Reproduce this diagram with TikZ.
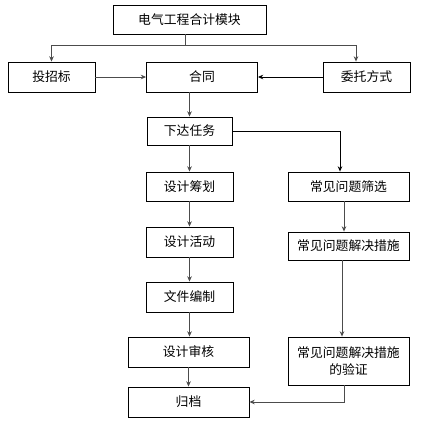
\documentclass[tikz,border=0pt]{standalone}
\usepackage{fontspec}
\newfontfamily\cjk{Noto Sans CJK SC}
\usetikzlibrary{arrows.meta,positioning}

\tikzset{
  box/.style={draw,rectangle,inner sep=0pt,line width=0.5pt,
    minimum width=1.74cm,minimum height=0.6cm,
    font=\cjk\fontsize{7.3}{9.5}\selectfont},
  wide/.style={box,minimum width=2.42cm},
  arr/.style={->,>={Stealth[length=3pt,width=2.6pt]},draw=black!70,line width=0.5pt}
}

\begin{document}
\begin{tikzpicture}[x=0.02cm,y=-0.02cm]
	\fill[white] (0,0) rectangle (426,420);
	\useasboundingbox (0,0) rectangle (426,420);

	\node[box,minimum width=3.06cm,minimum height=0.58cm] (mokuai) at (189.5,19.5) {电气工程合计模块};
	\node[box] (toubiao) at (51.5,77) {投招标};
	\node[box,minimum width=2.22cm] (hetong) at (202,77) {合同\hspace{0.5cm}};
	\node[box] (weituo) at (366.5,77) {委托方式};

	\node[box,minimum width=1.7cm,minimum height=0.56cm] (xiada) at (189.5,131) {下达任务};
	\node[box,minimum height=0.58cm] (chouhua) at (189.5,186.5) {设计筹划};
	\node[box] (huodong) at (189.5,242) {设计活动};
	\node[box] (bianzhi) at (189.5,297) {文件编制};
	\node[wide] (shenhe) at (188.5,352) {设计审核};
	\node[wide] (guidang) at (188.5,402) {归档};

	\node[wide,minimum height=0.58cm] (shaixuan) at (348.5,186.5) {常见问题筛选};
	\node[wide,minimum height=0.56cm] (cuoshi) at (348.5,246) {常见问题解决措施};
	\node[wide,minimum height=0.96cm,align=center] (yanzheng) at (348.5,361) {常见问题解决措施\\的验证};

	% top split
	\coordinate (split) at (185,45);
	\draw[draw=black!70,line width=0.5pt] (split |- mokuai.south) -- (split);
	\draw[arr] (split) -| (toubiao.north);
	\draw[arr] (split) -| ([xshift=-0.21cm]weituo.north);

	\draw[arr] (toubiao.east) -- (hetong.west);
	\draw[arr,draw=black] (weituo.west) -- (hetong.east);
	\draw[arr] (xiada.north |- hetong.south) -- (xiada.north);

	% left column
	\draw[arr] (xiada) -- (chouhua);
	\draw[arr] (chouhua) -- (huodong);
	\draw[arr] (huodong) -- (bianzhi);
	\draw[arr] (bianzhi.south) -- (bianzhi.south |- shenhe.north);
	\draw[arr] (shenhe) -- (guidang);

	% right column
	\draw[arr,draw=black] (xiada.east) -| ([xshift=-0.17cm]shaixuan.north);
	\draw[arr] ([xshift=-0.09cm]shaixuan.south) -- ([xshift=-0.09cm]cuoshi.north);
	\draw[arr] ([xshift=-0.13cm]cuoshi.south) -- ([xshift=-0.13cm]yanzheng.north);
	\draw[arr] ([xshift=-0.09cm]yanzheng.south) |- (guidang.east);
\end{tikzpicture}
\end{document}
